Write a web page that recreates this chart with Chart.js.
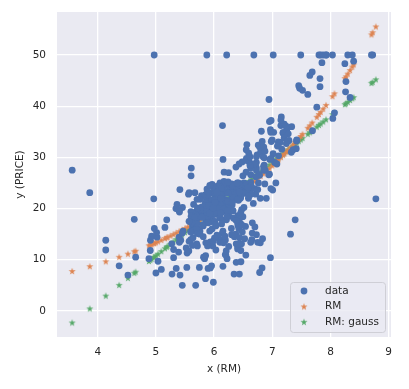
<!DOCTYPE html>
<html lang="en">
<head>
<meta charset="UTF-8"/>
<title>PRICE vs RM</title>
<script src="https://cdn.jsdelivr.net/npm/chart.js@4.4.2/dist/chart.umd.min.js"></script>
<style>
body{margin:0;background:#fff}
canvas{display:block}
</style>
</head>
<body>
<canvas id="chart" width="409" height="389"></canvas>
<script>
// observed data: rooms per dwelling (x) and price (y)
const rm=[6.575,6.421,7.185,6.998,7.147,6.430,6.012,6.172,5.631,6.004,6.377,6.009,5.889,5.949,6.096,5.834,5.935,5.990,5.456,5.727,
5.570,5.965,6.142,5.813,5.924,5.599,5.813,6.047,6.495,6.674,5.713,6.072,5.950,5.701,6.096,5.933,5.841,5.850,5.966,6.595,
7.024,6.770,6.169,6.211,6.069,5.682,5.786,6.030,5.399,5.602,5.963,6.115,6.511,5.998,5.888,7.249,6.383,6.816,6.145,5.927,
5.741,5.966,6.456,6.762,7.104,6.290,5.787,5.878,5.594,5.885,6.417,5.961,6.065,6.245,6.273,6.286,6.279,6.140,6.232,5.874,
6.727,6.619,6.302,6.167,6.389,6.630,6.015,6.121,7.007,7.079,6.417,6.405,6.442,6.211,6.249,6.625,6.163,8.069,7.820,7.416,
6.727,6.781,6.405,6.137,6.167,5.851,5.836,6.127,6.474,6.229,6.195,6.715,5.913,6.092,6.254,5.928,6.176,6.021,5.872,5.731,
5.870,6.004,5.961,5.856,5.879,5.986,5.613,5.693,6.431,5.637,6.458,6.326,6.372,5.822,5.757,6.335,5.942,6.454,5.857,6.151,
6.174,5.019,5.403,5.468,4.903,6.130,5.628,4.926,5.186,5.597,6.122,5.404,5.012,5.709,6.129,6.152,5.272,6.943,6.066,6.510,
6.250,7.489,7.802,8.375,5.854,6.101,7.929,5.877,6.319,6.402,5.875,5.880,5.572,6.416,5.859,6.546,6.020,6.315,6.860,6.980,
7.765,6.144,7.155,6.563,5.604,6.153,7.831,6.782,6.556,7.185,6.951,6.739,7.178,6.800,6.604,7.875,7.287,7.107,7.274,6.975,
7.135,6.162,7.610,7.853,8.034,5.891,6.326,5.783,6.064,5.344,5.960,5.404,5.807,6.375,5.412,6.182,5.888,6.642,5.951,6.373,
6.951,6.164,6.879,6.618,8.266,8.725,8.040,7.163,7.686,6.552,5.981,7.412,8.337,8.247,6.726,6.086,6.631,7.358,6.481,6.606,
6.897,6.095,6.358,6.393,5.593,5.605,6.108,6.226,6.433,6.718,6.487,6.438,6.957,8.259,6.108,5.876,7.454,8.704,7.333,6.842,
7.203,7.520,8.398,7.327,7.206,5.560,7.014,8.297,7.470,5.920,5.856,6.240,6.538,7.691,6.758,6.854,7.267,6.826,6.482,6.812,
7.820,6.968,7.645,7.923,7.088,6.453,6.230,6.209,6.315,6.565,6.861,7.148,6.630,6.127,6.009,6.678,6.549,5.790,6.345,7.041,
6.871,6.590,6.495,6.982,7.236,6.616,7.420,6.849,6.635,5.972,4.973,6.122,6.023,6.266,6.567,5.705,5.914,5.782,6.382,6.113,
6.426,6.376,6.041,5.708,6.415,6.431,6.312,6.083,5.868,6.333,6.144,5.706,6.031,6.316,6.310,6.037,5.869,5.895,6.059,5.985,
5.968,7.241,6.540,6.696,6.874,6.014,5.898,6.516,6.635,6.939,6.490,6.579,5.884,6.728,5.663,5.936,6.212,6.395,6.127,6.112,
6.398,6.251,5.362,5.803,8.780,3.561,4.963,3.863,4.970,6.683,7.016,6.216,5.875,4.906,4.138,7.313,6.649,6.794,6.380,6.223,
6.968,6.545,5.536,5.520,4.368,5.277,4.652,5.000,4.880,5.390,5.713,6.051,5.036,6.193,5.887,6.471,6.405,5.747,5.453,5.852,
5.987,6.343,6.404,5.349,5.531,5.683,4.138,5.608,5.617,6.852,5.757,6.657,4.628,5.155,4.519,6.434,6.782,5.304,5.957,6.824,
6.411,6.006,5.648,6.103,5.565,5.896,5.837,6.202,6.193,6.380,6.348,6.833,6.425,6.436,6.208,6.629,6.461,6.152,5.935,5.627,
5.818,6.406,6.219,6.485,5.854,6.459,6.341,6.251,6.185,6.417,6.749,6.655,6.297,7.393,6.728,6.525,5.976,5.936,6.301,6.081,
6.701,6.376,6.317,6.513,6.209,5.759,5.952,6.003,5.926,5.713,6.167,6.229,6.437,6.980,5.427,6.162,6.484,5.304,6.185,6.229,
6.242,6.750,7.061,5.762,5.871,6.312,6.114,5.905,5.454,5.414,5.093,5.983,5.983,5.707,5.926,5.670,5.390,5.794,6.019,5.569,
6.027,6.593,6.120,6.976,6.794,6.030];
const price=[24.0,21.6,34.7,33.4,36.2,28.7,22.9,27.1,16.5,18.9,15.0,18.9,21.7,20.4,18.2,19.9,23.1,17.5,20.2,18.2,
13.6,19.6,15.2,14.5,15.6,13.9,16.6,14.8,18.4,21.0,12.7,14.5,13.2,13.1,13.5,18.9,20.0,21.0,24.7,30.8,
34.9,26.6,25.3,24.7,21.2,19.3,20.0,16.6,14.4,19.4,19.7,20.5,25.0,23.4,18.9,35.4,24.7,31.6,23.3,19.6,
18.7,16.0,22.2,25.0,33.0,23.5,19.4,22.0,17.4,20.9,24.2,21.7,22.8,23.4,24.1,21.4,20.0,20.8,21.2,20.3,
28.0,23.9,24.8,22.9,23.9,26.6,22.5,22.2,23.6,28.7,22.6,22.0,22.9,25.0,20.6,28.4,21.4,38.7,43.8,33.2,
27.5,26.5,18.6,19.3,20.1,19.5,19.5,20.4,19.8,19.4,21.7,22.8,18.8,18.7,18.5,18.3,21.2,19.2,20.4,19.3,
22.0,20.3,20.5,17.3,18.8,21.4,15.7,16.2,18.0,14.3,19.2,19.6,23.0,18.4,15.6,18.1,17.4,17.1,13.3,17.8,
14.0,14.4,13.4,15.6,11.8,13.8,15.6,14.6,17.8,15.4,21.5,19.6,15.3,19.4,17.0,15.6,13.1,41.3,24.3,23.3,
27.0,50.0,50.0,50.0,22.7,25.0,50.0,23.8,23.8,22.3,17.4,19.1,23.1,23.6,22.6,29.4,23.2,24.6,29.9,37.2,
39.8,36.2,37.9,32.5,26.4,29.6,50.0,32.0,29.8,34.9,37.0,30.5,36.4,31.1,29.1,50.0,33.3,30.3,34.6,34.9,
32.9,24.1,42.3,48.5,50.0,22.6,24.4,22.5,24.4,20.0,21.7,19.3,22.4,28.1,23.7,25.0,23.3,28.7,21.5,23.0,
26.7,21.7,27.5,30.1,44.8,50.0,37.6,31.6,46.7,31.5,24.3,31.7,41.7,48.3,29.0,24.0,25.1,31.5,23.7,23.3,
22.0,20.1,22.2,23.7,17.6,18.5,24.3,20.5,24.5,26.2,24.4,24.8,29.6,42.8,21.9,20.9,44.0,50.0,36.0,30.1,
33.8,43.1,48.8,31.0,36.5,22.8,30.7,50.0,43.5,20.7,21.1,25.2,24.4,35.2,32.4,32.0,33.2,33.1,29.1,35.1,
45.4,35.4,46.0,50.0,32.2,22.0,20.1,23.2,22.3,24.8,28.5,37.3,27.9,23.9,21.7,28.6,27.1,20.3,22.5,29.0,
24.8,22.0,26.4,33.1,36.1,28.4,33.4,28.2,22.8,20.3,16.1,22.1,19.4,21.6,23.8,16.2,17.8,19.8,23.1,21.0,
23.8,23.1,20.4,18.5,25.0,24.6,23.0,22.2,19.3,22.6,19.8,17.1,19.4,22.2,20.7,21.1,19.5,18.5,20.6,19.0,
18.7,32.7,16.5,23.9,31.2,17.5,17.2,23.1,24.5,26.6,22.9,24.1,18.6,30.1,18.2,20.6,17.8,21.7,22.7,22.6,
25.0,19.9,20.8,16.8,21.9,27.5,21.9,23.1,50.0,50.0,50.0,50.0,50.0,13.8,13.8,15.0,13.9,13.3,13.1,10.2,
10.4,10.9,11.3,12.3,8.8,7.2,10.5,7.4,10.2,11.5,15.1,23.2,9.7,13.8,12.7,13.1,12.5,8.5,5.0,6.3,
5.6,7.2,12.1,8.3,8.5,5.0,11.9,27.9,17.2,27.5,15.0,17.2,17.9,16.3,7.0,7.2,7.5,10.4,8.8,8.4,
16.7,14.2,20.8,13.4,11.7,8.3,10.2,10.9,11.0,9.5,14.5,14.1,16.1,14.3,11.7,13.4,9.6,8.7,8.4,12.8,
10.5,17.1,18.4,15.4,10.8,11.8,14.9,12.6,14.1,13.0,13.4,15.2,16.1,17.8,14.9,14.1,12.7,13.5,14.9,20.0,
16.4,17.7,19.5,20.2,21.4,19.9,19.0,19.1,19.1,20.1,19.9,19.6,23.2,29.8,13.8,13.3,16.7,12.0,14.6,21.4,
23.0,23.7,25.0,21.8,20.6,21.2,19.1,20.6,15.2,7.0,8.1,13.6,20.1,21.8,24.5,23.1,19.7,18.3,21.2,17.5,
16.8,22.4,22.0,23.9,22.0,11.9];

// fitted values
const fitRM=[3.561,3.863,4.138,4.368,4.519,4.628,4.652,4.880,4.903,4.926,4.963,4.973,5.000,5.036,5.093,5.155,5.186,
5.20,5.25,5.30,5.35,5.40,5.45,5.50,5.55,5.60,5.65,5.70,5.75,5.80,5.85,5.90,5.95,6.00,6.05,6.10,6.15,
6.20,6.25,6.30,6.35,6.40,6.45,6.50,6.55,6.60,6.65,6.70,6.75,6.80,6.85,6.90,6.95,7.00,
7.024,7.061,7.088,7.107,7.147,7.185,7.206,7.241,7.274,7.313,7.358,7.393,7.420,7.454,7.489,7.520,7.610,7.645,7.686,
7.765,7.802,7.831,7.875,7.923,8.034,8.069,8.247,8.266,8.297,8.337,8.375,8.398,8.704,8.725,8.780];
const fitPrice=[7.80,8.74,9.69,10.57,11.18,11.65,11.76,12.81,12.92,13.04,13.22,13.27,13.41,13.59,13.88,14.21,14.38,
14.45,14.72,15.00,15.29,15.58,15.87,16.18,16.48,16.80,17.11,17.44,17.77,18.11,18.45,18.80,19.16,19.52,19.89,20.27,20.66,
21.05,21.45,21.86,22.27,22.70,23.13,23.57,24.01,24.47,24.93,25.41,25.89,26.38,26.88,27.39,27.91,28.44,
28.70,29.10,29.40,29.61,30.06,30.49,30.73,31.14,31.53,31.99,32.54,32.97,33.31,33.74,34.18,34.59,35.78,36.25,36.82,
37.93,38.46,38.88,39.53,40.25,41.96,42.52,45.49,45.82,46.36,47.06,47.74,48.15,54.03,54.45,55.59];
const fitGauss=[-2.26,0.49,2.99,5.09,6.46,7.45,7.67,9.75,9.96,10.17,10.50,10.59,10.84,11.17,11.69,12.25,12.53,
12.66,13.11,13.57,14.02,14.48,14.93,15.39,15.84,16.30,16.75,17.21,17.66,18.12,18.57,19.03,19.48,19.94,20.40,20.85,21.31,
21.76,22.22,22.67,23.13,23.58,24.04,24.49,24.95,25.40,25.86,26.31,26.77,27.22,27.68,28.13,28.59,29.04,
29.26,29.60,29.84,30.02,30.38,30.73,30.92,31.24,31.54,31.89,32.30,32.62,32.87,33.18,33.49,33.78,34.60,34.91,35.29,
36.01,36.34,36.61,37.01,37.44,38.45,38.77,40.39,40.57,40.85,41.21,41.56,41.77,44.55,44.74,45.25];

const xTicks=[4,5,6,7,8,9];
const yTicks=[0,10,20,30,40,50];

const BLUE="#4C72B0", ORANGE="#DD8452", GREEN="#55A868", INK="#262626";
const FONT="'DejaVu Sans', sans-serif";

function star(color,r){
  const c=document.createElement("canvas");
  const s=Math.ceil(r*2)+2;
  c.width=c.height=s;
  const g=c.getContext("2d");
  g.beginPath();
  for(let i=0;i<10;i++){
    const rr=i%2?r*0.382:r, a=-Math.PI/2+i*Math.PI/5;
    g.lineTo(s/2+rr*Math.cos(a), s/2+0.5+rr*Math.sin(a));
  }
  g.closePath(); g.fillStyle=color; g.fill();
  return c;
}
const starO=star(ORANGE,3.7), starG=star(GREEN,3.7);
const pts=(xs,ys)=>xs.map((x,i)=>({x,y:ys[i]}));

const bg={id:"bg",beforeDraw(c){
  const a=c.chartArea, ctx=c.ctx;
  ctx.save(); ctx.fillStyle="#EAEAF2"; ctx.fillRect(a.left,a.top,a.width,a.height); ctx.restore();
}};

const box={id:"box",afterDraw(c){
  const a=c.chartArea, ctx=c.ctx;
  const w=95,h=50,x=a.right-6-w,y=a.bottom-5-h;
  ctx.save();
  ctx.beginPath(); ctx.roundRect(x+0.5,y+0.5,w,h,3);
  ctx.fillStyle="rgba(234,234,242,0.8)"; ctx.fill();
  ctx.strokeStyle="#cfcfd6"; ctx.lineWidth=1; ctx.stroke();
  ctx.font="10.5px "+FONT; ctx.fillStyle=INK; ctx.textBaseline="middle";
  c.data.datasets.forEach((d,i)=>{
    const ty=y+9+i*15.4;
    if(d.pointStyle==="circle"){
      ctx.beginPath(); ctx.arc(x+14,ty,3.4,0,Math.PI*2); ctx.fillStyle=d.backgroundColor; ctx.fill();
    }else{
      ctx.drawImage(d.pointStyle,x+14-d.pointStyle.width/2,ty-d.pointStyle.height/2);
    }
    ctx.fillStyle=INK; ctx.fillText(d.label,x+35,ty);
  });
  ctx.restore();
}};

const gridOpts={color:"#ffffff",lineWidth:1.3,drawTicks:false};
const tickFont={family:FONT,size:10.5};

new Chart(document.getElementById("chart"),{
  type:"scatter",
  data:{datasets:[
    {label:"data",data:pts(rm,price),pointStyle:"circle",pointRadius:3.4,pointHoverRadius:3.4,borderWidth:0,backgroundColor:BLUE},
    {label:"RM",data:pts(fitRM,fitPrice),pointStyle:starO,backgroundColor:ORANGE},
    {label:"RM: gauss",data:pts(fitRM,fitGauss),pointStyle:starG,backgroundColor:GREEN}
  ]},
  options:{
    responsive:false,animation:false,
    layout:{padding:{top:12,right:18,bottom:12,left:0}},
    plugins:{legend:{display:false},tooltip:{enabled:false}},
    scales:{
      x:{type:"linear",min:3.30,max:9.04,
        afterBuildTicks:s=>{s.ticks=xTicks.map(v=>({value:v}));},
        afterFit:s=>{s.height=40;s.paddingLeft=0;s.paddingRight=0;},
        grid:gridOpts,border:{display:false},
        ticks:{font:tickFont,color:INK,padding:9,maxRotation:0},
        title:{display:true,text:"x (RM)",font:tickFont,color:INK,padding:{top:2,bottom:1}}},
      y:{type:"linear",min:-5.1,max:58.4,
        afterBuildTicks:s=>{s.ticks=yTicks.map(v=>({value:v}));},
        afterFit:s=>{s.width=57;s.paddingTop=0;s.paddingBottom=0;},
        grid:gridOpts,border:{display:false},
        ticks:{font:tickFont,color:INK,padding:11},
        title:{display:true,text:"y (PRICE)",font:tickFont,color:INK,padding:{top:14,bottom:2}}}
    }
  },
  plugins:[bg,box]
});
</script>
</body>
</html>
